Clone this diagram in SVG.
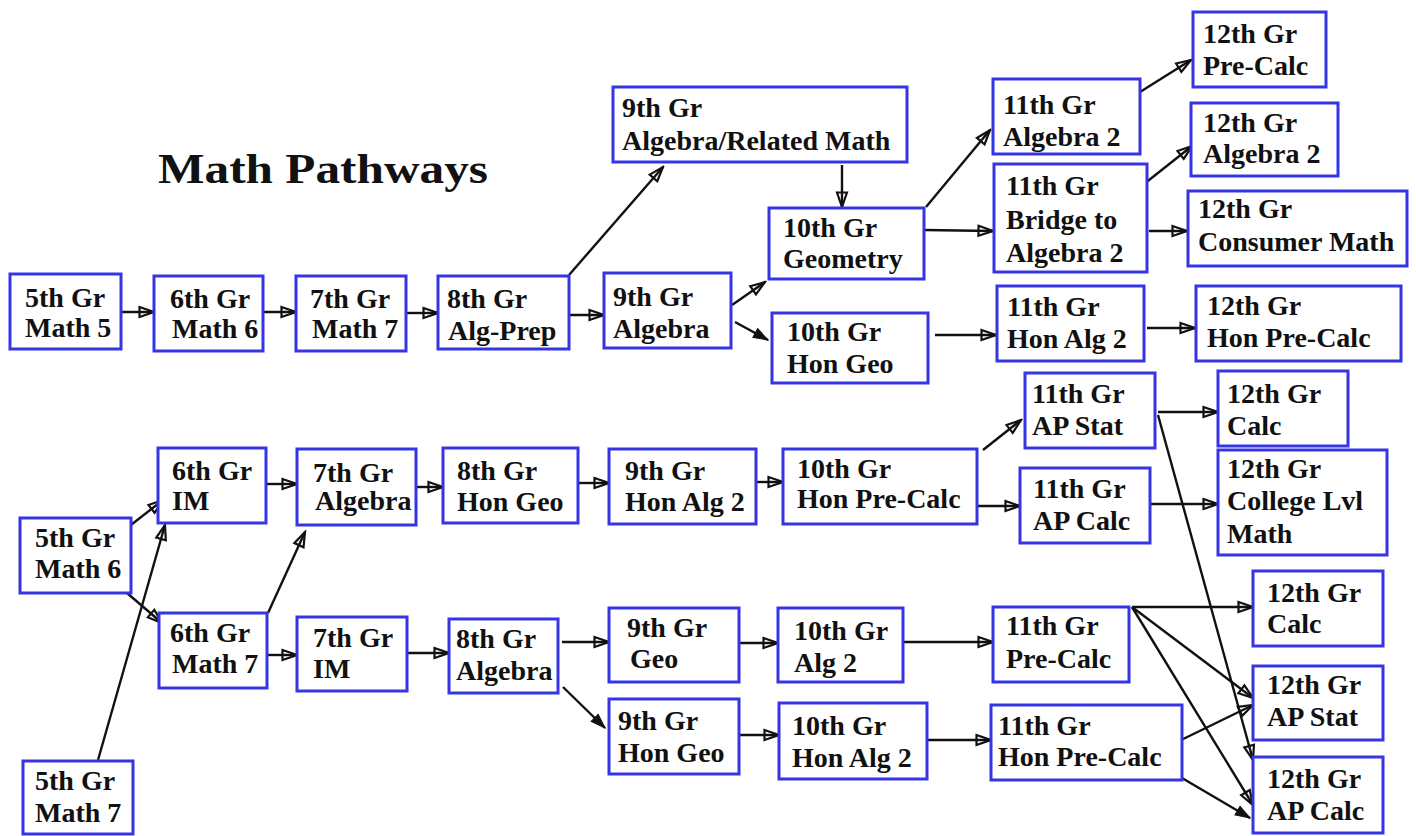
<svg xmlns="http://www.w3.org/2000/svg" width="1416" height="836" viewBox="0 0 1416 836">
<style>
.box{fill:#fff;stroke:#3535e6;stroke-width:3}
.t{font-family:"Liberation Serif","Times New Roman",serif;font-weight:bold;font-size:28px;fill:#111}
.title{font-family:"Liberation Serif","Times New Roman",serif;font-weight:bold;font-size:43px;fill:#111}
.c{stroke:#111;stroke-width:2.4;fill:none;marker-end:url(#open)}
.s{stroke:#111;stroke-width:2.4;fill:none;marker-end:url(#solid)}
</style>
<defs>
<marker id="open" markerUnits="userSpaceOnUse" markerWidth="18" markerHeight="14" refX="16" refY="7" orient="auto">
<path d="M1.5,2 L16,7 L1.5,12 Z" fill="none" stroke="#111" stroke-width="2.2"/>
</marker>
<marker id="solid" markerUnits="userSpaceOnUse" markerWidth="18" markerHeight="14" refX="16" refY="7" orient="auto">
<path d="M1.5,2 L16,7 L1.5,12 Z" fill="#111" stroke="#111" stroke-width="1"/>
</marker>
</defs>
<rect width="1416" height="836" fill="#fff"/>
<text class="title" x="158" y="183" textLength="330" lengthAdjust="spacingAndGlyphs">Math Pathways</text>

<g id="connectors">
<line class="c" x1="121" y1="312" x2="154" y2="312"/>
<line class="c" x1="263" y1="312" x2="296" y2="312"/>
<line class="c" x1="406" y1="313" x2="438" y2="313"/>
<line class="c" x1="569" y1="315" x2="604" y2="315"/>
<line class="c" x1="569" y1="275" x2="663" y2="167"/>
<line class="c" x1="842" y1="165" x2="842" y2="207"/>
<line class="c" x1="732" y1="305" x2="765" y2="282"/>
<line class="s" x1="735" y1="322" x2="768" y2="340"/>
<line class="c" x1="926" y1="207" x2="990" y2="130"/>
<line class="c" x1="924" y1="230" x2="993" y2="231"/>
<line class="c" x1="1140" y1="92" x2="1191" y2="60"/>
<line class="c" x1="1144" y1="184" x2="1192" y2="146"/>
<line class="c" x1="1149" y1="231" x2="1187" y2="231"/>
<line class="c" x1="935" y1="335" x2="996" y2="335"/>
<line class="c" x1="1147" y1="328" x2="1195" y2="328"/>
<line class="c" x1="127" y1="528" x2="163" y2="500"/>
<line class="c" x1="98" y1="760" x2="165" y2="525"/>
<line class="c" x1="120" y1="587" x2="162" y2="623"/>
<line class="c" x1="267" y1="484" x2="297" y2="484"/>
<line class="c" x1="268" y1="613" x2="305" y2="532"/>
<line class="c" x1="267" y1="655" x2="297" y2="655"/>
<line class="c" x1="416" y1="487" x2="443" y2="487"/>
<line class="c" x1="407" y1="653" x2="449" y2="653"/>
<line class="c" x1="578" y1="483" x2="609" y2="483"/>
<line class="c" x1="756" y1="482" x2="783" y2="482"/>
<line class="c" x1="983" y1="450" x2="1021" y2="420"/>
<line class="c" x1="977" y1="506" x2="1020" y2="506"/>
<line class="c" x1="1158" y1="412" x2="1218" y2="412"/>
<line class="c" x1="1150" y1="504" x2="1218" y2="504"/>
<line class="c" x1="1158" y1="415" x2="1253" y2="760"/>
<line class="c" x1="562" y1="642" x2="609" y2="642"/>
<line class="s" x1="563" y1="687" x2="605" y2="728"/>
<line class="c" x1="739" y1="643" x2="778" y2="643"/>
<line class="c" x1="903" y1="642" x2="993" y2="642"/>
<line class="c" x1="739" y1="735" x2="779" y2="735"/>
<line class="c" x1="927" y1="740" x2="991" y2="740"/>
<line class="c" x1="1132" y1="607" x2="1253" y2="607"/>
<line class="c" x1="1132" y1="607" x2="1253" y2="698"/>
<line class="c" x1="1132" y1="607" x2="1253" y2="805"/>
<line class="c" x1="1177" y1="742" x2="1253" y2="705"/>
<line class="s" x1="1182" y1="778" x2="1250" y2="818"/>
</g>

<g id="g5-math5"><rect class="box" x="10" y="274" width="111" height="75"/><text class="t" x="25" y="307">5th Gr</text><text class="t" x="25" y="337">Math 5</text></g>
<g id="g6-math6"><rect class="box" x="154" y="276" width="109" height="75"/><text class="t" x="170" y="308">6th Gr</text><text class="t" x="172" y="338">Math 6</text></g>
<g id="g7-math7"><rect class="box" x="296" y="276" width="110" height="75"/><text class="t" x="310" y="308">7th Gr</text><text class="t" x="312" y="338">Math 7</text></g>
<g id="g8-algprep"><rect class="box" x="438" y="276" width="131" height="73"/><text class="t" x="447" y="308">8th Gr</text><text class="t" x="448" y="340">Alg-Prep</text></g>
<g id="g9-algebra"><rect class="box" x="604" y="273" width="127" height="75"/><text class="t" x="613" y="306">9th Gr</text><text class="t" x="613" y="338">Algebra</text></g>
<g id="g9-algrel"><rect class="box" x="613" y="87" width="294" height="75"/><text class="t" x="622" y="117">9th Gr</text><text class="t" x="622" y="150">Algebra/Related Math</text></g>
<g id="g10-geometry"><rect class="box" x="769" y="208" width="155" height="71"/><text class="t" x="783" y="237">10th Gr</text><text class="t" x="783" y="268">Geometry</text></g>
<g id="g10-hongeo"><rect class="box" x="772" y="313" width="156" height="70"/><text class="t" x="787" y="341">10th Gr</text><text class="t" x="787" y="373">Hon Geo</text></g>
<g id="g11-alg2"><rect class="box" x="993" y="79" width="147" height="75"/><text class="t" x="1003" y="114">11th Gr</text><text class="t" x="1003" y="146">Algebra 2</text></g>
<g id="g11-bridge"><rect class="box" x="994" y="164" width="153" height="108"/><text class="t" x="1006" y="195">11th Gr</text><text class="t" x="1006" y="229">Bridge to</text><text class="t" x="1006" y="262">Algebra 2</text></g>
<g id="g11-honalg2"><rect class="box" x="997" y="286" width="147" height="75"/><text class="t" x="1007" y="316">11th Gr</text><text class="t" x="1007" y="348">Hon Alg 2</text></g>
<g id="g12-precalc"><rect class="box" x="1193" y="12" width="133" height="75"/><text class="t" x="1203" y="43">12th Gr</text><text class="t" x="1203" y="75">Pre-Calc</text></g>
<g id="g12-alg2"><rect class="box" x="1191" y="103" width="147" height="73"/><text class="t" x="1203" y="132">12th Gr</text><text class="t" x="1203" y="163">Algebra 2</text></g>
<g id="g12-consumer"><rect class="box" x="1188" y="191" width="219" height="75"/><text class="t" x="1198" y="218">12th Gr</text><text class="t" x="1198" y="251">Consumer Math</text></g>
<g id="g12-honprecalc"><rect class="box" x="1196" y="286" width="205" height="75"/><text class="t" x="1207" y="315">12th Gr</text><text class="t" x="1207" y="347">Hon Pre-Calc</text></g>

<g id="g5-math6"><rect class="box" x="20" y="518" width="111" height="75"/><text class="t" x="35" y="547">5th Gr</text><text class="t" x="35" y="578">Math 6</text></g>
<g id="g6-im"><rect class="box" x="158" y="448" width="108" height="75"/><text class="t" x="172" y="480">6th Gr</text><text class="t" x="172" y="510">IM</text></g>
<g id="g7-algebra"><rect class="box" x="297" y="449" width="119" height="76"/><text class="t" x="313" y="482">7th Gr</text><text class="t" x="315" y="510">Algebra</text></g>
<g id="g6-math7"><rect class="box" x="159" y="613" width="108" height="75"/><text class="t" x="170" y="642">6th Gr</text><text class="t" x="172" y="673">Math 7</text></g>
<g id="g7-im"><rect class="box" x="297" y="617" width="110" height="74"/><text class="t" x="313" y="647">7th Gr</text><text class="t" x="313" y="678">IM</text></g>
<g id="g5-math7"><rect class="box" x="23" y="761" width="110" height="73"/><text class="t" x="35" y="790">5th Gr</text><text class="t" x="35" y="822">Math 7</text></g>
<g id="g8-hongeo"><rect class="box" x="443" y="448" width="135" height="75"/><text class="t" x="457" y="480">8th Gr</text><text class="t" x="457" y="511">Hon Geo</text></g>
<g id="g9-honalg2"><rect class="box" x="609" y="449" width="147" height="75"/><text class="t" x="625" y="480">9th Gr</text><text class="t" x="625" y="511">Hon Alg 2</text></g>
<g id="g10-honprecalc"><rect class="box" x="783" y="449" width="194" height="75"/><text class="t" x="797" y="478">10th Gr</text><text class="t" x="797" y="508">Hon Pre-Calc</text></g>
<g id="g11-apstat"><rect class="box" x="1025" y="373" width="130" height="75"/><text class="t" x="1032" y="403">11th Gr</text><text class="t" x="1032" y="435">AP Stat</text></g>
<g id="g11-apcalc"><rect class="box" x="1020" y="468" width="130" height="75"/><text class="t" x="1033" y="498">11th Gr</text><text class="t" x="1033" y="530">AP Calc</text></g>
<g id="g12-calc-a"><rect class="box" x="1218" y="371" width="130" height="75"/><text class="t" x="1227" y="403">12th Gr</text><text class="t" x="1227" y="435">Calc</text></g>
<g id="g12-college"><rect class="box" x="1218" y="450" width="169" height="105"/><text class="t" x="1227" y="478">12th Gr</text><text class="t" x="1227" y="510">College  Lvl</text><text class="t" x="1227" y="543">Math</text></g>
<g id="g8-algebra"><rect class="box" x="449" y="619" width="109" height="74"/><text class="t" x="456" y="648">8th Gr</text><text class="t" x="456" y="680">Algebra</text></g>
<g id="g9-geo"><rect class="box" x="609" y="608" width="130" height="74"/><text class="t" x="627" y="637">9th Gr</text><text class="t" x="630" y="668">Geo</text></g>
<g id="g10-alg2"><rect class="box" x="778" y="608" width="125" height="74"/><text class="t" x="794" y="640">10th Gr</text><text class="t" x="794" y="672">Alg 2</text></g>
<g id="g9-hongeo"><rect class="box" x="609" y="699" width="130" height="75"/><text class="t" x="618" y="730">9th Gr</text><text class="t" x="618" y="762">Hon Geo</text></g>
<g id="g10-honalg2"><rect class="box" x="779" y="703" width="148" height="76"/><text class="t" x="792" y="735">10th Gr</text><text class="t" x="792" y="767">Hon Alg 2</text></g>
<g id="g11-precalc"><rect class="box" x="993" y="607" width="136" height="75"/><text class="t" x="1006" y="635">11th Gr</text><text class="t" x="1006" y="668">Pre-Calc</text></g>
<g id="g11-honprecalc"><rect class="box" x="991" y="705" width="191" height="75"/><text class="t" x="998" y="735">11th Gr</text><text class="t" x="998" y="766">Hon Pre-Calc</text></g>
<g id="g12-calc-b"><rect class="box" x="1253" y="571" width="130" height="75"/><text class="t" x="1267" y="602">12th Gr</text><text class="t" x="1267" y="633">Calc</text></g>
<g id="g12-apstat"><rect class="box" x="1253" y="666" width="130" height="74"/><text class="t" x="1267" y="694">12th Gr</text><text class="t" x="1267" y="726">AP Stat</text></g>
<g id="g12-apcalc"><rect class="box" x="1253" y="757" width="130" height="76"/><text class="t" x="1267" y="788">12th Gr</text><text class="t" x="1267" y="820">AP Calc</text></g>
</svg>
